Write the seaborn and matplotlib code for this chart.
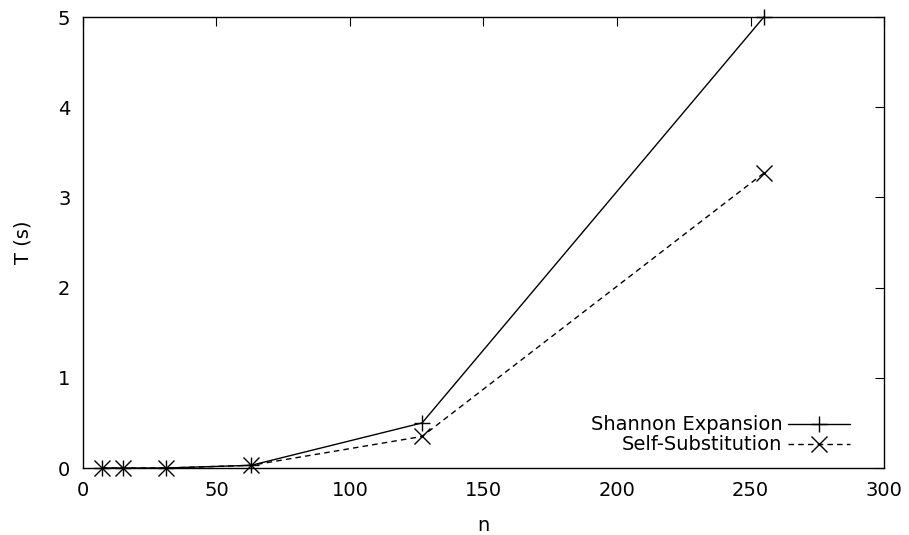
import matplotlib
matplotlib.use("Agg")
import matplotlib.pyplot as plt
import seaborn as sns
import pandas as pd

n_values = [7, 15, 31, 63, 127, 255]
shannon = [0.0, 0.0, 0.0, 0.03, 0.5, 5.0]
selfsub = [0.0, 0.0, 0.0, 0.03, 0.35, 3.27]
series_names = ["Shannon Expansion", "Self-Substitution"]

df = pd.DataFrame({
    "n": n_values * 2,
    "T": shannon + selfsub,
    "method": [series_names[0]] * len(n_values) + [series_names[1]] * len(n_values),
})

sns.set_style("white")
plt.rcParams['font.family'] = ['DejaVu Sans']
plt.rcParams['text.color'] = 'black'
plt.rcParams['axes.labelcolor'] = 'black'

fig = plt.figure(figsize=(9.09, 5.35), dpi=100)
ax = fig.add_axes([0.0913, 0.1252, 0.8812, 0.8430])

sns.lineplot(data=df, x="n", y="T", hue="method", style="method",
             palette=["black", "black"], dashes=[(None, None), (4, 3)],
             markers=["+", "x"], markersize=11.5,
             linewidth=1.0, ax=ax, legend=True)

styles = ["-", (0, (4, 3))]
for line, ls in zip(ax.get_lines()[:2], styles):
    line.set_linestyle(ls)
    line.set_markeredgecolor("black")
    line.set_markeredgewidth(1.0)
    line.set_clip_on(False)

ax.set_xlim(0, 300)
ax.set_ylim(0, 5)
ax.set_xticks([0, 50, 100, 150, 200, 250, 300])
ax.set_yticks([0, 1, 2, 3, 4, 5])
ax.set_xlabel("n", fontsize=14, labelpad=12, color="black")
ax.set_ylabel("T (s)", fontsize=14, labelpad=18, color="black")
ax.tick_params(direction="in", length=6.5, width=0.8, top=True, right=True,
               labelsize=14, pad=9, colors="black")
ax.tick_params(axis="x", top=True, labeltop=False)
ax.tick_params(axis="y", right=True, labelright=False)
for s in ax.spines.values():
    s.set_color("black")
    s.set_linewidth(1.0)
    s.set_visible(True)

handles, labels = ax.get_legend_handles_labels()
for h, ls in zip(handles, styles):
    h.set_linestyle(ls)
    h.set_markeredgecolor("black")
    h.set_markeredgewidth(1.0)
    h.set_markersize(11.5)
ax.legend(handles, labels, loc="lower right", bbox_to_anchor=(0.9675, 0.013),
          frameon=False, markerfirst=False, labelcolor="black",
          fontsize=14, handlelength=3.2, labelspacing=0.05, borderaxespad=0.0,
          handletextpad=0.3)

fig.savefig("out.png", dpi=100)
